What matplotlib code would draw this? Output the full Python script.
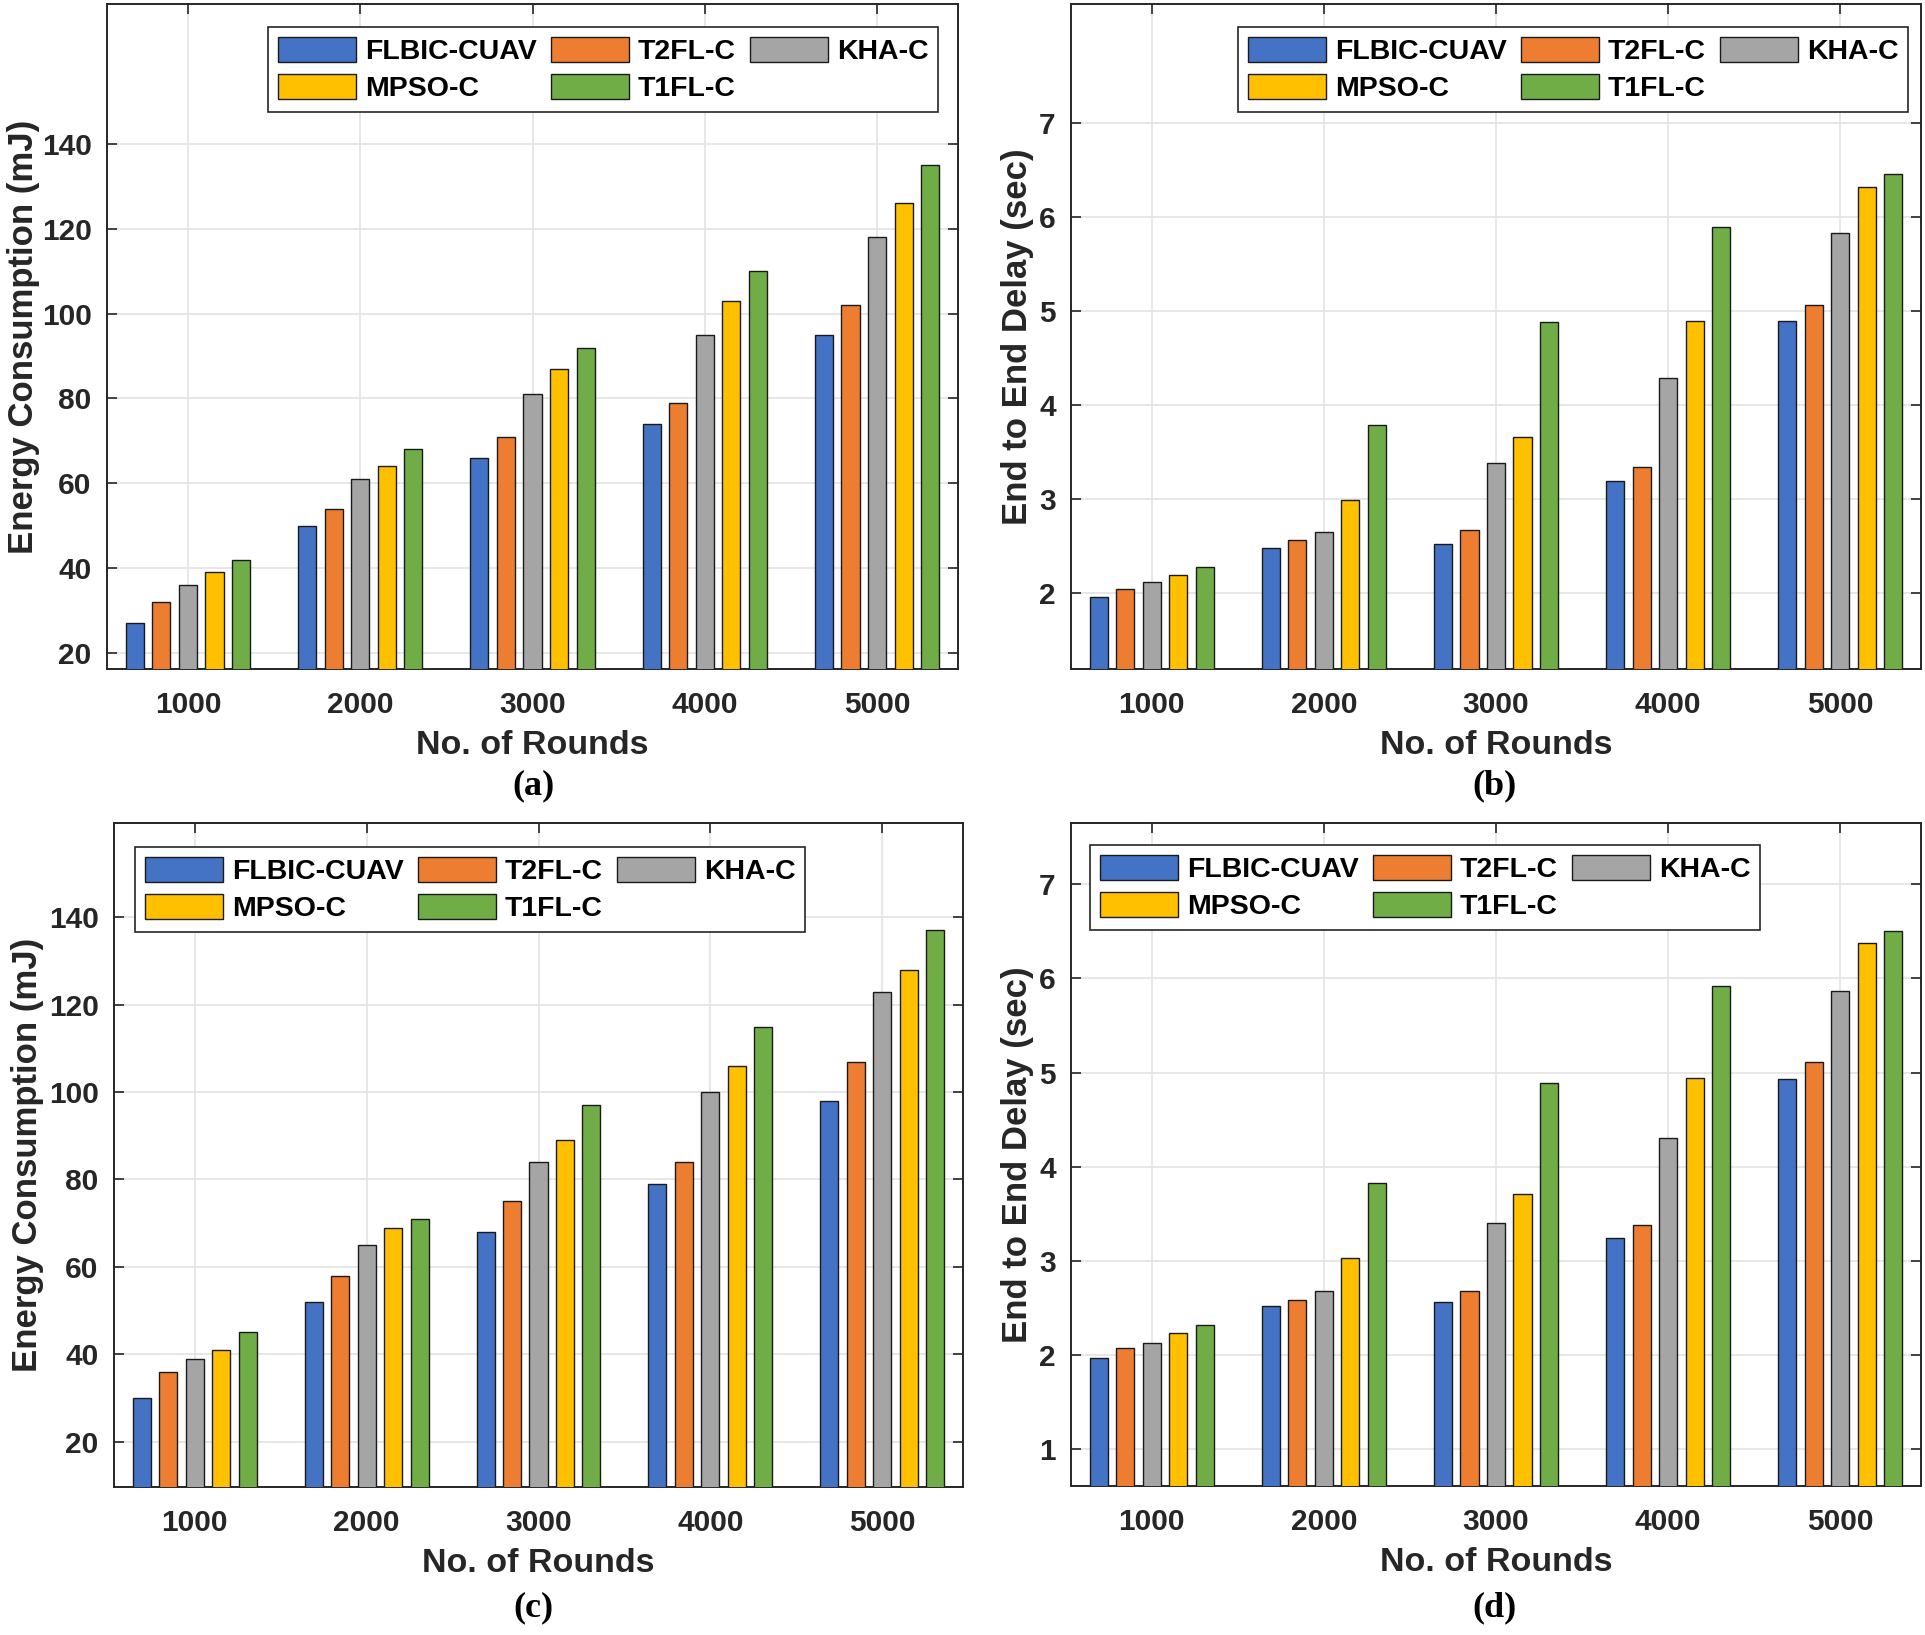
import numpy as np
import matplotlib
matplotlib.use("Agg")
import matplotlib.pyplot as plt

methods = ["FLBIC-CUAV", "T2FL-C", "KHA-C", "MPSO-C", "T1FL-C"]
colors = ["#4472C4", "#ED7D31", "#A5A5A5", "#FFC000", "#70AD47"]
rounds = ["1000", "2000", "3000", "4000", "5000"]

# (a) Energy consumption
energy_a_flbic = [27, 50, 66, 74, 95]
energy_a_t2fl = [32, 54, 71, 79, 102]
energy_a_kha = [36, 61, 81, 95, 118]
energy_a_mpso = [39, 64, 87, 103, 126]
energy_a_t1fl = [42, 68, 92, 110, 135]

# (b) End to end delay
delay_b_flbic = [1.96, 2.48, 2.52, 3.19, 4.89]
delay_b_t2fl = [2.04, 2.56, 2.67, 3.34, 5.07]
delay_b_kha = [2.12, 2.65, 3.38, 4.29, 5.83]
delay_b_mpso = [2.19, 2.99, 3.66, 4.90, 6.32]
delay_b_t1fl = [2.28, 3.79, 4.88, 5.90, 6.46]

# (c) Energy consumption
energy_c_flbic = [30, 52, 68, 79, 98]
energy_c_t2fl = [36, 58, 75, 84, 107]
energy_c_kha = [39, 65, 84, 100, 123]
energy_c_mpso = [41, 69, 89, 106, 128]
energy_c_t1fl = [45, 71, 97, 115, 137]

# (d) End to end delay
delay_d_flbic = [1.97, 2.52, 2.56, 3.24, 4.93]
delay_d_t2fl = [2.08, 2.59, 2.68, 3.38, 5.11]
delay_d_kha = [2.13, 2.68, 3.40, 4.31, 5.87]
delay_d_mpso = [2.23, 3.03, 3.71, 4.94, 6.38]
delay_d_t1fl = [2.32, 3.83, 4.89, 5.92, 6.50]

W, H = 1925, 1635
fig = plt.figure(figsize=(W / 100, H / 100), dpi=100)
fig.patch.set_facecolor("white")

SANS = "Liberation Sans"
SERIF = "Liberation Serif"
INK = "#262626"


def px_axes(l, t, r, b):
    return [l / W, 1 - b / H, (r - l) / W, (b - t) / H]


panels = [
    dict(rect=px_axes(107, 4, 958, 669), box=(4, 669),
         data=[energy_a_flbic, energy_a_t2fl, energy_a_kha, energy_a_mpso, energy_a_t1fl],
         ylim=(16.2, 173), yticks=[20, 40, 60, 80, 100, 120, 140],
         ylabel="Energy Consumption (mJ)", ylx=40, leg=(268, 27), tag="(a)", tagpos=(533, 786)),
    dict(rect=px_axes(1071, 4, 1921, 669), box=(4, 669),
         data=[delay_b_flbic, delay_b_t2fl, delay_b_kha, delay_b_mpso, delay_b_t1fl],
         ylim=(1.19, 8.27), yticks=[2, 3, 4, 5, 6, 7],
         ylabel="End to End Delay (sec)", ylx=1034, leg=(1238, 27), tag="(b)", tagpos=(1495, 786)),
    dict(rect=px_axes(114, 823, 963, 1487), box=(823, 1487),
         data=[energy_c_flbic, energy_c_t2fl, energy_c_kha, energy_c_mpso, energy_c_t1fl],
         ylim=(9.6, 161.6), yticks=[20, 40, 60, 80, 100, 120, 140],
         ylabel="Energy Consumption (mJ)", ylx=44, leg=(135, 847), tag="(c)", tagpos=(533, 1608)),
    dict(rect=px_axes(1071, 823, 1921, 1486), box=(823, 1486),
         data=[delay_d_flbic, delay_d_t2fl, delay_d_kha, delay_d_mpso, delay_d_t1fl],
         ylim=(0.61, 7.65), yticks=[1, 2, 3, 4, 5, 6, 7],
         ylabel="End to End Delay (sec)", ylx=1034, leg=(1090, 845), tag="(d)", tagpos=(1495, 1608)),
]

x = np.arange(1, len(rounds) + 1)
bw = 0.105
step = 0.154

for p in panels:
    ax = fig.add_axes(p["rect"])
    handles = []
    for i, (vals, c, m) in enumerate(zip(p["data"], colors, methods)):
        h = ax.bar(x + (i - 2) * step, vals, width=bw, color=c, edgecolor="#1a1a1a",
                   linewidth=1.0, label=m, zorder=3)
        handles.append(h)
    ax.set_xlim(0.53, 5.47)
    ax.set_ylim(*p["ylim"])
    ax.set_xticks(x)
    ax.set_xticklabels(rounds)
    ax.set_yticks(p["yticks"])
    ax.grid(True, color="#e3e3e3", linewidth=1.2, zorder=0)
    ax.set_axisbelow(True)
    for s in ax.spines.values():
        s.set_color(INK)
        s.set_linewidth(1.4)
    ax.tick_params(direction="in", length=7, width=1.2, top=True, right=True,
                   color=INK)
    ax.tick_params(axis="x", pad=16)
    ax.tick_params(axis="y", pad=11)
    for lab in ax.get_xticklabels() + ax.get_yticklabels():
        lab.set_fontfamily(SANS)
        lab.set_fontweight("bold")
        lab.set_fontsize(21.5)
        lab.set_color(INK)
    ax.set_xlabel("No. of Rounds", fontfamily=SANS, fontweight="bold", fontsize=24.5,
                  color=INK, labelpad=8)
    ax.set_ylabel(p["ylabel"], fontfamily=SANS, fontweight="bold", fontsize=25,
                  color=INK)
    ymid = 1 - (p["box"][0] + p["box"][1]) / 2 / H
    ax.yaxis.set_label_coords(p["ylx"] / W, ymid, transform=fig.transFigure)
    order = [0, 3, 1, 4, 2]
    leg = ax.legend([handles[k] for k in order], [methods[k] for k in order],
                    ncol=3, loc="upper left",
                    bbox_to_anchor=(p["leg"][0] / W, 1 - p["leg"][1] / H),
                    bbox_transform=fig.transFigure, borderaxespad=0,
                    prop=dict(family=SANS, weight="bold", size=20.5),
                    handlelength=2.75, handleheight=1.0, handletextpad=0.3,
                    columnspacing=0.5, labelspacing=0.3, borderpad=0.35,
                    fancybox=False, framealpha=1, edgecolor=INK)
    leg.get_frame().set_linewidth(1.2)
    fig.text(p["tagpos"][0] / W, 1 - p["tagpos"][1] / H, p["tag"], ha="center",
             va="center", fontfamily=SERIF, fontweight="bold", fontsize=26)

fig.savefig("out.png", dpi=100)
